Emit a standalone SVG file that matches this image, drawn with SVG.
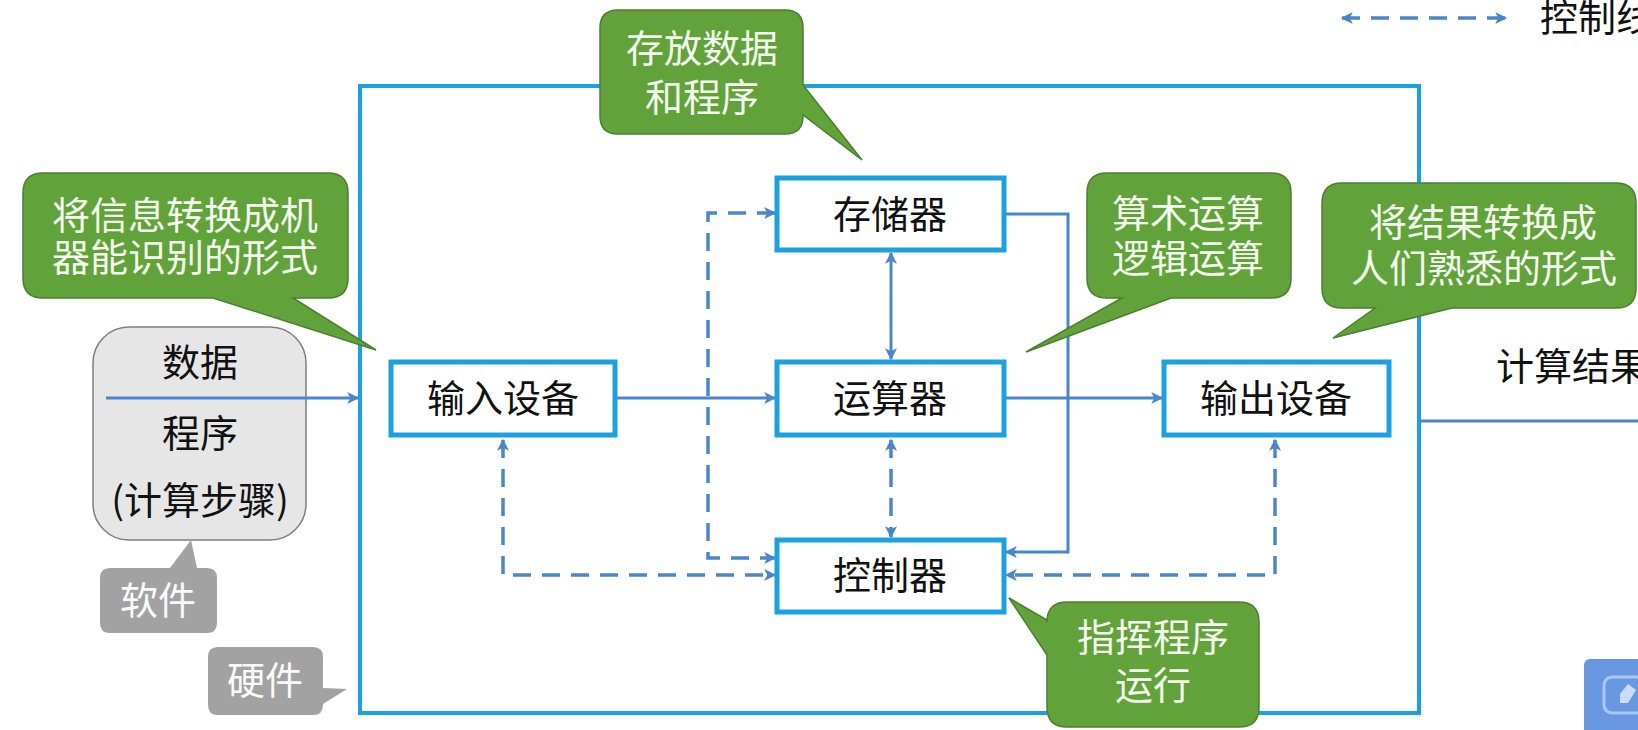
<svg xmlns="http://www.w3.org/2000/svg" width="1638" height="730" viewBox="0 0 1638 730">
<style>
.node rect{fill:#fff;stroke:#1BA1E2;stroke-width:5}
.t{font-family:"Noto Sans CJK SC","Noto Sans",sans-serif;font-size:38px;text-anchor:middle}
.dark{fill:#111}
.wt{fill:#F4FAEE}
.gt{fill:#FAFAFA}
.green{fill:#62A23B;stroke:#4B7F2C;stroke-width:1.5}
.gray{fill:#A2A2A2}
.c{fill:none;stroke:#4A86C8;stroke-width:3}
.d{stroke-dasharray:18 11;stroke-width:3.5}
</style>
<defs>
<marker id="arr" viewBox="0 0 10 10" refX="9" refY="5" markerWidth="13" markerHeight="12" markerUnits="userSpaceOnUse" orient="auto-start-reverse">
<path d="M0,0 L10,5 L0,10 L2.5,5 Z" fill="#4A86C8"/>
</marker>
</defs>
<rect width="1638" height="730" fill="#fff"/>
<g id="outer-box"><rect x="360" y="86" width="1059" height="627" fill="none" stroke="#1BA1E2" stroke-width="4"/></g>
<g id="software-box">
<rect x="93" y="327" width="213" height="213" rx="36" fill="#E6E6E6" stroke="#7F7F7F" stroke-width="1.5"/>
<text class="t dark" x="200" y="376">数据</text>
<text class="t dark" x="200" y="447">程序</text>
<text class="t dark" x="200" y="514">(计算步骤)</text>
</g>
<g id="connectors">
<path class="c" d="M106,398 H358" marker-end="url(#arr)"/>
<path class="c" d="M616,398 H775" marker-end="url(#arr)"/>
<path class="c" d="M1005,398 H1162" marker-end="url(#arr)"/>
<path class="c" d="M891,253 V359" marker-start="url(#arr)" marker-end="url(#arr)"/>
<path class="c" d="M1005,214 H1068 V552 H1006" marker-end="url(#arr)"/>
<path class="c" d="M1419,421 H1640"/>
<path class="c d" d="M891,440 V537" marker-start="url(#arr)" marker-end="url(#arr)"/>
<path class="c d" d="M775,213 H708 V558 H775" marker-start="url(#arr)" marker-end="url(#arr)"/>
<path class="c d" d="M503,440 V575 H775" marker-start="url(#arr)" marker-end="url(#arr)"/>
<path class="c d" d="M1275,440 V575 H1006" marker-start="url(#arr)" marker-end="url(#arr)"/>
<path class="c d" d="M1342,18 H1506" marker-start="url(#arr)" marker-end="url(#arr)"/>
</g>
<g id="legend-label"><text class="t dark" x="1540" y="31" style="text-anchor:start">控制线</text></g>
<g id="result-label"><text class="t dark" x="1496" y="380" style="text-anchor:start">计算结果</text></g>
<g id="input" class="node"><rect x="391" y="362" width="224" height="73"/><text class="t dark" x="503" y="412">输入设备</text></g>
<g id="memory" class="node"><rect x="777" y="178" width="227" height="72"/><text class="t dark" x="890" y="228">存储器</text></g>
<g id="alu" class="node"><rect x="777" y="362" width="227" height="73"/><text class="t dark" x="890" y="412">运算器</text></g>
<g id="output" class="node"><rect x="1164" y="362" width="225" height="73"/><text class="t dark" x="1276" y="412">输出设备</text></g>
<g id="control" class="node"><rect x="777" y="540" width="227" height="72"/><text class="t dark" x="890" y="589">控制器</text></g>
<g id="note-memory">
<path class="green" d="M618,10 H785 Q803,10 803,28 V85 L862,160 L803,115 V116 Q803,134 785,134 H618 Q600,134 600,116 V28 Q600,10 618,10 Z"/>
<text class="t wt" x="702" y="62">存放数据</text>
<text class="t wt" x="702" y="111">和程序</text>
</g>
<g id="note-input">
<path class="green" d="M43,173 H328 Q348,173 348,193 V278 Q348,298 328,298 H293 L376,350 L213,298 H43 Q23,298 23,278 V193 Q23,173 43,173 Z"/>
<text class="t wt" x="185" y="229">将信息转换成机</text>
<text class="t wt" x="185" y="271">器能识别的形式</text>
</g>
<g id="note-alu">
<path class="green" d="M1107,173 H1271 Q1291,173 1291,193 V278 Q1291,298 1271,298 H1171 L1026,352 L1122,298 H1107 Q1087,298 1087,278 V193 Q1087,173 1107,173 Z"/>
<text class="t wt" x="1188" y="227">算术运算</text>
<text class="t wt" x="1188" y="272">逻辑运算</text>
</g>
<g id="note-output">
<path class="green" d="M1342,183 H1616 Q1636,183 1636,203 V288 Q1636,308 1616,308 H1452 L1333,338 L1375,308 H1342 Q1322,308 1322,288 V203 Q1322,183 1342,183 Z"/>
<text class="t wt" x="1483" y="236">将结果转换成</text>
<text class="t wt" x="1484" y="282">人们熟悉的形式</text>
</g>
<g id="note-control">
<path class="green" d="M1067,602 H1239 Q1259,602 1259,622 V707 Q1259,727 1239,727 H1067 Q1047,727 1047,707 V655 L1009,598 L1047,620 V622 Q1047,602 1067,602 Z"/>
<text class="t wt" x="1153" y="651">指挥程序</text>
<text class="t wt" x="1153" y="699">运行</text>
</g>
<g id="tag-software">
<path class="gray" d="M110,568 H170 L191,540 L197,568 H207 Q217,568 217,578 V623 Q217,633 207,633 H110 Q100,633 100,623 V578 Q100,568 110,568 Z"/>
<text class="t gt" x="158" y="614">软件</text>
</g>
<g id="tag-hardware">
<path class="gray" d="M218,647 H313 Q323,647 323,657 V688 L347,689 L323,704 V705 Q323,715 313,715 H218 Q208,715 208,705 V657 Q208,647 218,647 Z"/>
<text class="t gt" x="265" y="694">硬件</text>
</g>
<g id="ui-icon">
<rect x="1584" y="659" width="70" height="80" rx="6" fill="#6A97E2"/>
<rect x="1604" y="677" width="40" height="36" rx="8" fill="none" stroke="#A9C8F7" stroke-width="3"/>
<path d="M1620,703 L1620,694 L1628,684 L1636,690 L1628,703 Z" fill="#C9DDFB"/>
</g>
</svg>
